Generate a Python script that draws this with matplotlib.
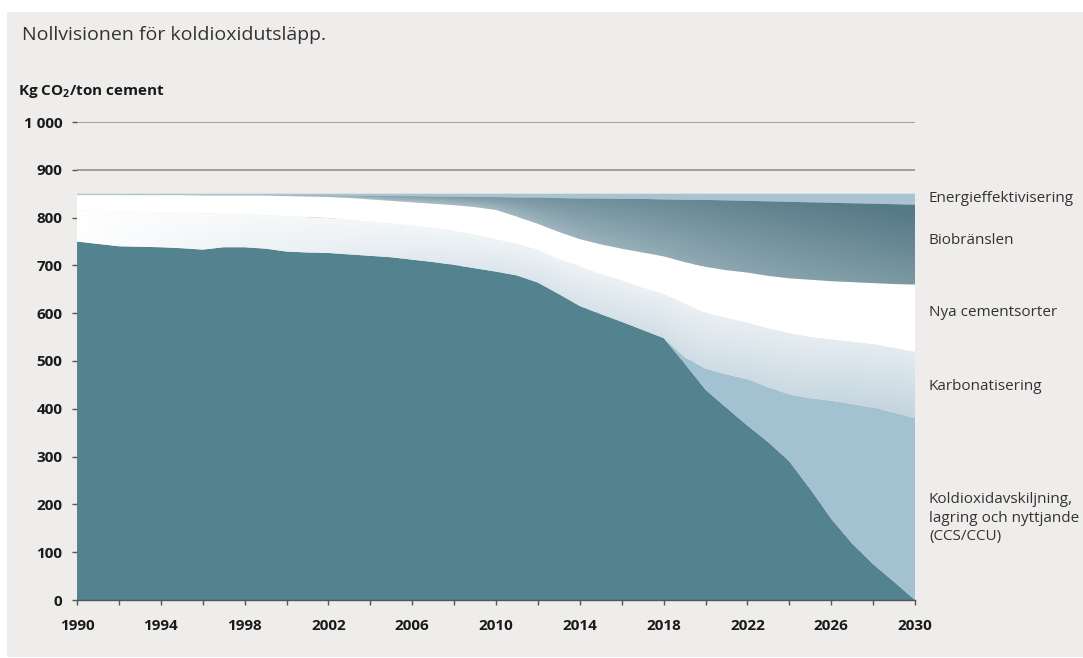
import matplotlib
matplotlib.use("Agg")

import numpy as np
import matplotlib.pyplot as plt
from matplotlib.colors import LinearSegmentedColormap
from matplotlib.patches import PathPatch, Rectangle
from matplotlib.ticker import FixedLocator, FuncFormatter

plt.rcParams['font.family'] = ['Open Sans', 'DejaVu Sans']
plt.rcParams['mathtext.fontset'] = 'custom'
plt.rcParams['mathtext.rm'] = 'Open Sans'
plt.rcParams['mathtext.bf'] = 'Open Sans:bold'

# === data (kg CO2 / ton cement) ===
years = np.arange(1990, 2031)

# kvarvarande utslapp (bottom band)
utslapp = [750, 745, 740, 739, 738, 736, 733, 738, 738, 735,
           729, 727, 726, 723, 720, 717, 712, 707, 701, 694,
           687, 679, 664, 640, 615, 598, 582, 565, 548, 495,
           440, 402, 365, 330, 290, 232, 170, 118, 75, 38, 0]

# upper edge of each reduction band (stacked)
ccs_topp = utslapp[:29] + [508, 484, 472, 462, 445, 430, 422, 417, 410, 402, 392, 380]
karb_topp = [815, 814, 813, 812, 811, 810, 809, 808, 807, 805,
             803, 801, 799, 795, 791, 788, 783, 778, 772, 764,
             754, 745, 732, 713, 697, 682, 668, 653, 640, 620,
             600, 590, 580, 568, 558, 550, 545, 540, 535, 527, 519]
nya_topp = [847, 847, 847, 847, 847, 847, 846, 846, 846, 846,
            845, 844, 843, 841, 838, 835, 832, 829, 826, 822,
            816, 802, 787, 770, 755, 744, 735, 727, 719, 707,
            697, 690, 685, 678, 673, 670, 667, 665, 663, 661, 660]
bio_topp = [849, 849, 849, 849, 849, 849, 848, 848, 848, 848,
            847, 847, 847, 846, 846, 845, 845, 844, 844, 843,
            843, 842, 842, 841, 840, 840, 839, 839, 838, 837,
            837, 836, 835, 834, 833, 832, 831, 830, 829, 828, 827]
energi_topp = [850] * 41

etiketter = ["Energieffektivisering", "Biobränslen", "Nya cementsorter",
             "Karbonatisering",
             "Koldioxidavskiljning,\nlagring och nyttjande\n(CCS/CCU)"]
etikett_py = [199, 241, 313, 386, 518]   # vertical pixel centre of each label

W, H = 1083, 658
fig = plt.figure(figsize=(W / 100, H / 100), dpi=100)
fig.patch.set_facecolor("white")
fig.patches.append(Rectangle((7 / W, 1 / H), 1, (H - 13) / H,
                             transform=fig.transFigure, facecolor="#eeedeb",
                             edgecolor="none", zorder=-10))

ax = fig.add_axes([77 / W, 58 / H, 838 / W, 478 / H])
ax.set_facecolor("none")


def gradient_band(lower, upper, c0, c1, tfunc, z):
    poly = ax.fill_between(years, lower, upper, facecolor="none",
                           edgecolor="none", zorder=z)
    y0, y1 = min(lower), max(upper)
    xs = np.linspace(1990, 2030, 400)
    ys = np.linspace(y0, y1, 400)
    X, Y = np.meshgrid(xs, ys)
    lo = np.interp(X, years, lower)
    hi = np.interp(X, years, upper)
    rel = np.clip((hi - Y) / np.maximum(hi - lo, 1e-6), 0, 1)  # 0 at top, 1 at bottom
    t = np.clip(tfunc(X, rel), 0, 1)
    cmap = LinearSegmentedColormap.from_list("g", [c0, c1])
    im = ax.imshow(t, extent=[1990, 2030, y0, y1], origin="lower",
                   aspect="auto", cmap=cmap, vmin=0, vmax=1, zorder=z,
                   interpolation="bilinear")
    patch = PathPatch(poly.get_paths()[0], transform=ax.transData,
                      facecolor="none", edgecolor="none")
    ax.add_patch(patch)
    im.set_clip_path(patch)


# solid bands
ax.fill_between(years, 0, utslapp, facecolor="#52838f", edgecolor="none", zorder=3)
ax.fill_between(years, utslapp, ccs_topp, facecolor="#a2c1d1", edgecolor="none", zorder=3)
ax.fill_between(years, karb_topp, nya_topp, facecolor="#ffffff", edgecolor="none", zorder=3)
ax.fill_between(years, bio_topp, energi_topp, facecolor="#a9c3d0", edgecolor="none", zorder=3)

# gradient bands
gradient_band(ccs_topp, karb_topp, "#ffffff", "#c3d4de",
              lambda X, r: ((X - 1990) / 40) ** 0.8 * (0.45 + 0.55 * r), 3)
gradient_band(nya_topp, bio_topp, "#b4c7cf", "#567a86",
              lambda X, r: 0.6 * (X - 2002) / 28 + 0.45 * (1 - r), 3)

ax.set_xlim(1990, 2030)
ax.set_ylim(0, 1000)

# === axes styling ===
for s in ["top", "right", "left"]:
    ax.spines[s].set_visible(False)
ax.spines["bottom"].set_color("#555555")
ax.spines["bottom"].set_linewidth(1.0)
ax.spines["bottom"].set_zorder(5)

ax.yaxis.set_major_locator(FixedLocator(range(0, 1001, 100)))
ax.yaxis.set_major_formatter(FuncFormatter(lambda v, p: f"{int(v):,}".replace(",", " ")))
ax.xaxis.set_major_locator(FixedLocator(range(1990, 2031, 4)))
ax.xaxis.set_minor_locator(FixedLocator(range(1992, 2031, 4)))

ax.grid(axis="y", color="#8a8a8a", linewidth=1.1, zorder=0.5)
ax.set_axisbelow(True)

ax.tick_params(axis="y", length=3.6, width=1, color="#555555", pad=7,
               labelsize=11, labelcolor="#1a1a1a")
ax.tick_params(axis="x", which="both", length=3.6, width=1, color="#555555",
               direction="out", pad=10, labelsize=11, labelcolor="#1a1a1a")
for lab in ax.get_xticklabels() + ax.get_yticklabels():
    lab.set_fontweight("bold")

# === texts ===
fig.text(22 / W, 1 - 35 / H, "Nollvisionen för koldioxidutsläpp.",
         fontsize=14, color="#333333", va="center", ha="left")
fig.text(18 / W, 1 - 92 / H, r"Kg CO$_\mathbf{2}$/ton cement", fontsize=11,
         fontweight="bold", color="#1a1a1a", va="center", ha="left")

for txt, py in zip(etiketter, etikett_py):
    fig.text(929 / W, 1 - py / H, txt, fontsize=11, color="#333333",
             va="center", ha="left", linespacing=1.3)

plt.savefig("out.png", dpi=100)
plt.close()
